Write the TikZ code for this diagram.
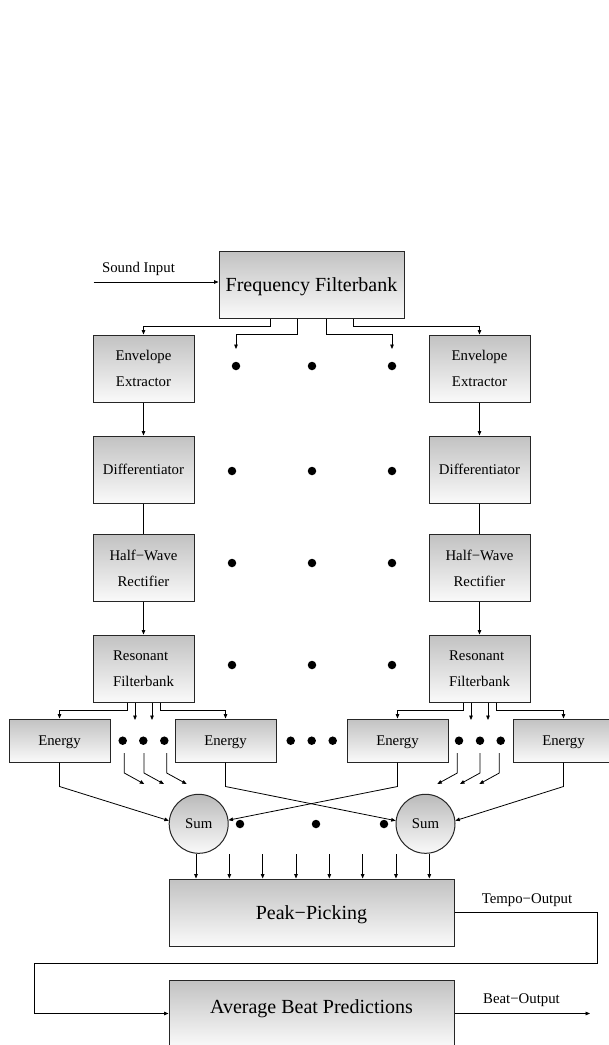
\documentclass[tikz,border=0pt]{standalone}
\usepackage{fontspec}
\setmainfont{Liberation Serif}
\usetikzlibrary{arrows.meta,calc}
\begin{document}
\begin{tikzpicture}[x=1pt,y=-1pt,
  blk/.style={draw=black!85, line width=1pt, top color=black!24, bottom color=black!2,
    minimum width=101pt, minimum height=67pt, inner sep=0pt,
    font=\fontsize{14.8}{26}\selectfont, align=center},
  big/.style={font=\fontsize{20}{24}\selectfont, minimum width=285pt},
  en/.style={blk, minimum height=43pt, text depth=0pt},
  sumc/.style={circle, draw=black!85, line width=1pt, top color=black!27, bottom color=black!2,
    minimum size=59pt, inner sep=0pt, font=\fontsize{14.8}{18}\selectfont},
  dot/.style={circle, fill=black, minimum size=8.5pt, inner sep=0pt},
  con/.style={line width=0.8pt},
  arr/.style={con, -{Triangle[length=4.5pt,width=3.6pt]}},
  lbl/.style={font=\fontsize{14.8}{18}\selectfont, inner sep=0pt}
]
\useasboundingbox (0,0) rectangle (609,1045);

% top block
\node[blk, big, minimum width=185pt, text depth=0pt] (ff) at (311.5,284.5) {Frequency Filterbank};
\coordinate (si) at (93.5,282);
\node[lbl] (silbl) at (138.5,269) {Sound Input};
\draw[arr] (si) -- (si -| ff.west);

% columns
\foreach \c/\x in {L/143.5, R/479.5} {
  \node[blk] (env\c) at (\x,368.5) {Envelope\\Extractor};
  \node[blk, text depth=0pt] (dif\c) at (\x,469.5) {Differentiator};
  \node[blk] (hw\c) at (\x,568) {Half−Wave\\Rectifier};
  \node[blk, align=left] (res\c) at (\x,668.5) {Resonant\\Filterbank};
  \draw[arr] (env\c) -- (dif\c);
  \draw[con] (dif\c) -- (hw\c);
  \draw[arr] (hw\c) -- (res\c);
}

% dots between columns
\foreach \i/\x/\y in {1/236/366, 2/312/366, 3/392/366,
                      4/232/471, 5/312/471, 6/392/471,
                      7/232/563, 8/312/563, 9/392/563,
                      10/232/665, 11/312/665, 12/392/665}
  \node[dot] (cd\i) at (\x,\y) {};

% filterbank branches
\coordinate (fd1) at (236,349);
\coordinate (fd2) at (392,349);
\draw[arr] ([xshift=-41.5pt]ff.south) -- ++(0,8) -| (envL.north);
\draw[arr] ([xshift=-14.5pt]ff.south) -- ++(0,16) -| (fd1);
\draw[arr] ([xshift=14.5pt]ff.south) -- ++(0,16) -| (fd2);
\draw[arr] ([xshift=41.5pt]ff.south) -- ++(0,8) -| (envR.north);

% energy row
\node[en] (enA) at (59.5,740.5) {Energy};
\node[en] (enB) at (225.5,740.5) {Energy};
\node[en] (enC) at (397.5,740.5) {Energy};
\node[en] (enD) at (563.5,740.5) {Energy};

\draw[arr] ([xshift=-16.5pt]resL.south) -- ++(0,8) -| (enA.north);
\draw[arr] ([xshift=16.5pt]resL.south) -- ++(0,8) -| (enB.north);
\draw[arr] ([xshift=-16.5pt]resR.south) -- ++(0,8) -| (enC.north);
\draw[arr] ([xshift=16.5pt]resR.south) -- ++(0,8) -| (enD.north);
\coordinate (ri1) at (135,720);
\coordinate (ri2) at (152,720);
\coordinate (ri3) at (471,720);
\coordinate (ri4) at (488,720);
\draw[arr] (resL.south -| ri1) -- (ri1);
\draw[arr] (resL.south -| ri2) -- (ri2);
\draw[arr] (resR.south -| ri3) -- (ri3);
\draw[arr] (resR.south -| ri4) -- (ri4);

% energy-row dots
\foreach \i/\x in {1/122.7, 2/143.3, 3/164.3, 4/290.7, 5/311.7, 6/332.7, 7/459, 8/480, 9/500.7}
  \node[dot] (ed\i) at (\x,740.7) {};

% dot arrows toward the sums
\foreach \i/\x in {1/124.3, 2/144, 3/166.7} {
  \coordinate (das\i) at (\x,753);
  \coordinate (dae\i) at (\x+20,784);
  \draw[arr] (das\i) -- ++(0,20) -- (dae\i);
}
\foreach \i/\x in {4/457.3, 5/480, 6/499.3} {
  \coordinate (das\i) at (\x,753);
  \coordinate (dae\i) at (\x-20,784);
  \draw[arr] (das\i) -- ++(0,20) -- (dae\i);
}

% sums
\node[sumc] (s1) at (198.7,823.8) {Sum};
\node[sumc] (s2) at (425.5,823.8) {Sum};
\foreach \i/\x in {1/240, 2/316, 3/384}
  \node[dot] (sd\i) at (\x,824) {};

\draw[arr] (enA.south) -- ++(0,24) -- (s1.174);
\draw[arr] (enB.south) -- ++(0,24) -- (s2.174);
\draw[arr] (enC.south) -- ++(0,24) -- (s1.7);
\draw[arr] (enD.south) -- ++(0,24) -- (s2.6);

% peak picking
\node[blk, big, text depth=0pt] (pk) at (311.5,912.5) {Peak−Picking};
\coordinate (pa0) at ($(s1.south)+(-2.7,0)$);
\coordinate (pa7) at ($(s2.south)+(3.8,0)$);
\draw[arr] (pa0) -- (pa0 |- pk.north);
\draw[arr] (pa7) -- (pa7 |- pk.north);
\foreach \i in {1,...,6} {
  \coordinate (pa\i) at (196+33.33*\i,854);
  \draw[arr] (pa\i) -- (pa\i |- pk.north);
}

% average beat predictions
\node[blk, big] (avg) at (311.5,1013.5) {};
\node[font=\fontsize{20}{24}\selectfont, inner sep=0pt] (avgt) at (311.5,1008.5) {Average Beat Predictions};
\coordinate (tr) at (597,963);
\coordinate (tl) at (34.5,963);
\draw[arr] (pk.east) -- (pk.east -| tr) |- (tl) |- (avg.west);
\node[lbl] (tempo) at (527,900) {Tempo−Output};
\coordinate (bo) at (590,1013.5);
\draw[arr] (avg.east) -- (bo);
\node[lbl] (beat) at (521.5,1000) {Beat−Output};
\end{tikzpicture}
\end{document}
